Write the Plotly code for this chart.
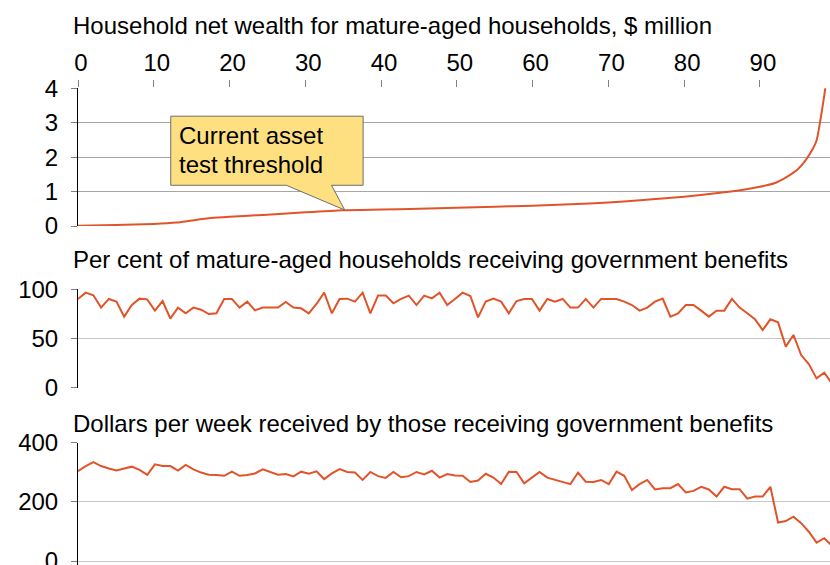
import plotly.graph_objects as go

# ---------------- data ----------------
# Panel 1: household net wealth ($ million) by percentile of mature-aged households
wealth_pct = [0, 5, 10, 13, 15, 17.5, 20, 22.5, 25, 30, 35, 40, 45, 50, 55, 60, 65, 70,
              75, 80, 85, 88, 90, 92, 93.5, 95, 96, 97, 97.5, 98, 98.5, 99]
wealth = [0.01, 0.03, 0.06, 0.10, 0.16, 0.23, 0.27, 0.30, 0.33, 0.40, 0.46, 0.48, 0.50, 0.53,
          0.56, 0.59, 0.63, 0.68, 0.76, 0.85, 0.97, 1.06, 1.14, 1.25, 1.42, 1.65, 1.90, 2.25,
          2.50, 3.10, 3.80, 4.60]

# Panel 2 and 3: by percentile group (0..98)
groups = list(range(99))
share_receiving = [
    90.2, 96.6, 93.9, 81.4, 90.2, 87.5, 72.2, 84.0, 90.5, 89.8,
    78.3, 88.1, 70.2, 81.4, 75.6, 81.4, 79.3, 74.9, 75.6, 90.2,
    90.2, 81.4, 87.5, 78.6, 81.4, 81.4, 81.4, 87.1, 81.4, 80.7,
    75.6, 85.1, 96.6, 75.6, 90.2, 90.5, 87.5, 96.6, 75.6, 93.6,
    93.6, 85.8, 90.2, 93.6, 84.0, 93.6, 90.8, 96.6, 84.0, 90.2,
    96.6, 93.2, 71.5, 87.5, 90.5, 87.5, 75.6, 88.1, 90.2, 90.2,
    78.3, 90.2, 87.5, 90.2, 81.4, 81.4, 90.2, 81.4, 90.2, 90.2,
    90.2, 87.5, 84.0, 78.3, 81.4, 87.5, 90.5, 72.2, 75.6, 84.0,
    84.0, 78.3, 72.2, 78.3, 78.3, 90.2, 81.4, 75.6, 69.5, 58.6,
    69.5, 66.4, 41.7, 53.6, 33.2, 24.1, 9.5, 15.3, 4.4]
dollars_per_week = [
    304, 321, 334, 321, 313, 306, 313, 319, 308, 291,
    327, 321, 321, 306, 325, 310, 299, 292, 291, 288,
    302, 288, 291, 296, 310, 300, 292, 294, 286, 302,
    295, 303, 277, 296, 311, 301, 299, 274, 301, 287,
    281, 301, 283, 287, 301, 293, 305, 282, 294, 289,
    288, 267, 272, 295, 282, 260, 302, 301, 263, 282,
    301, 282, 274, 268, 260, 299, 268, 267, 274, 260,
    302, 288, 240, 260, 274, 242, 246, 246, 260, 232,
    237, 251, 242, 218, 251, 243, 243, 211, 218, 218,
    251, 130, 135, 150, 128, 99, 62, 77, 52]

top_ticks = [0, 10, 20, 30, 40, 50, 60, 70, 80, 90]
y1_ticks = [0, 1, 2, 3, 4]
y2_ticks = [0, 50, 100]
y3_ticks = [0, 200, 400]

titles = ["Household net wealth for mature-aged households, $ million",
          "Per cent of mature-aged households receiving government benefits",
          "Dollars per week received by those receiving government benefits"]
callout_lines = ["Current asset", "test threshold"]

# ---------------- styling ----------------
W, H = 830, 565
ML = 78
LINE = "#E0542A"
FONT = "Liberation Sans, Arial, sans-serif"
FS = 24
GRID_TOP = "#A6A6A6"
GRID = "#C8C8C8"

def py(p):  # pixel y -> paper y
    return 1 - p / H

def px(p):  # pixel x -> paper x (plot area starts at ML)
    return (p - ML) / (W - ML)

# bottom panel spans to the page edge; value 0 sits 4 px above it
b_top, b_zero = 442.7, 561.0
b_unit = (b_zero - b_top) / 400.0
b_min = -(H - b_zero) / b_unit

fig = go.Figure()
fig.add_trace(go.Scatter(x=wealth_pct, y=wealth, mode="lines",
                         line=dict(color=LINE, width=2, shape="spline", smoothing=0.6),
                         xaxis="x", yaxis="y", hoverinfo="skip"))
fig.add_trace(go.Scatter(x=groups, y=share_receiving, mode="lines",
                         line=dict(color=LINE, width=2),
                         xaxis="x2", yaxis="y2", hoverinfo="skip"))
fig.add_trace(go.Scatter(x=groups, y=dollars_per_week, mode="lines",
                         line=dict(color=LINE, width=2),
                         xaxis="x3", yaxis="y3", hoverinfo="skip"))

yax_common = dict(showline=True, linecolor="black", linewidth=1, ticks="outside",
                  ticklen=6, tickcolor="#808080", tickfont=dict(size=FS, color="black"),
                  zeroline=False, fixedrange=True, ticklabelstandoff=8, automargin=False,
                  ticklabeloverflow="allow")

fig.update_layout(
    width=W, height=H,
    margin=dict(l=ML, r=0, t=0, b=0, autoexpand=False),
    paper_bgcolor="white", plot_bgcolor="white",
    font=dict(family=FONT, size=FS, color="black"),
    showlegend=False,
    xaxis=dict(domain=[0, 1], anchor="y", side="top", range=[0, 99.25],
               tickvals=top_ticks, ticks="outside", ticklen=7, tickcolor="#808080",
               showgrid=False, zeroline=False, showline=False, automargin=False,
               tickfont=dict(size=FS, color="black"), ticklabelshift=3,
               ticklabelstandoff=0),
    yaxis=dict(domain=[py(226), py(88.3)], anchor="x", range=[0, 4], tickvals=y1_ticks,
               showgrid=True, gridcolor=GRID_TOP, gridwidth=1, **yax_common),
    xaxis2=dict(domain=[0, 1], anchor="y2", range=[0, 97.75], visible=False, automargin=False),
    yaxis2=dict(domain=[py(387.7), py(289.3)], anchor="x2", range=[0, 100], tickvals=y2_ticks,
                showgrid=True, gridcolor=GRID, gridwidth=1, **yax_common),
    xaxis3=dict(domain=[0, 1], anchor="y3", range=[0, 97.75], visible=False, automargin=False),
    yaxis3=dict(domain=[0, py(b_top)], anchor="x3", range=[b_min, 400], tickvals=y3_ticks,
                showgrid=True, gridcolor=GRID, gridwidth=1, **yax_common),
)

# panel titles
for t, yc in zip(titles, [25.5, 259.2, 423.3]):
    fig.add_annotation(text=t, xref="paper", yref="paper", x=px(70.5), y=py(yc),
                       xanchor="left", yanchor="middle", showarrow=False,
                       font=dict(size=FS, color="black"))

# callout box with pointer (data coordinates of the top panel)
bx0, bx1, by0, by1 = 12.24, 37.63, 1.183, 3.19
tipx, tipy = 35.2, 0.465
p0, p1 = 27.5, 33.46
path = (f"M {bx0},{by0} L {p0},{by0} L {tipx},{tipy} L {p1},{by0} L {bx1},{by0} "
        f"L {bx1},{by1} L {bx0},{by1} Z")
fig.add_shape(type="path", path=path, xref="x", yref="y",
              fillcolor="#FFE081", line=dict(color="#6E6E6E", width=1), layer="above")
for line_txt, yv in zip(callout_lines, [2.63, 1.773]):
    fig.add_annotation(text=line_txt, xref="x", yref="y", x=13.1, y=yv,
                       xanchor="left", yanchor="middle", showarrow=False,
                       font=dict(size=FS, color="black"))

fig.write_html("out.html", config={"displayModeBar": False, "staticPlot": True},
               post_script="document.body.style.margin='0';document.body.style.overflow='hidden';")
